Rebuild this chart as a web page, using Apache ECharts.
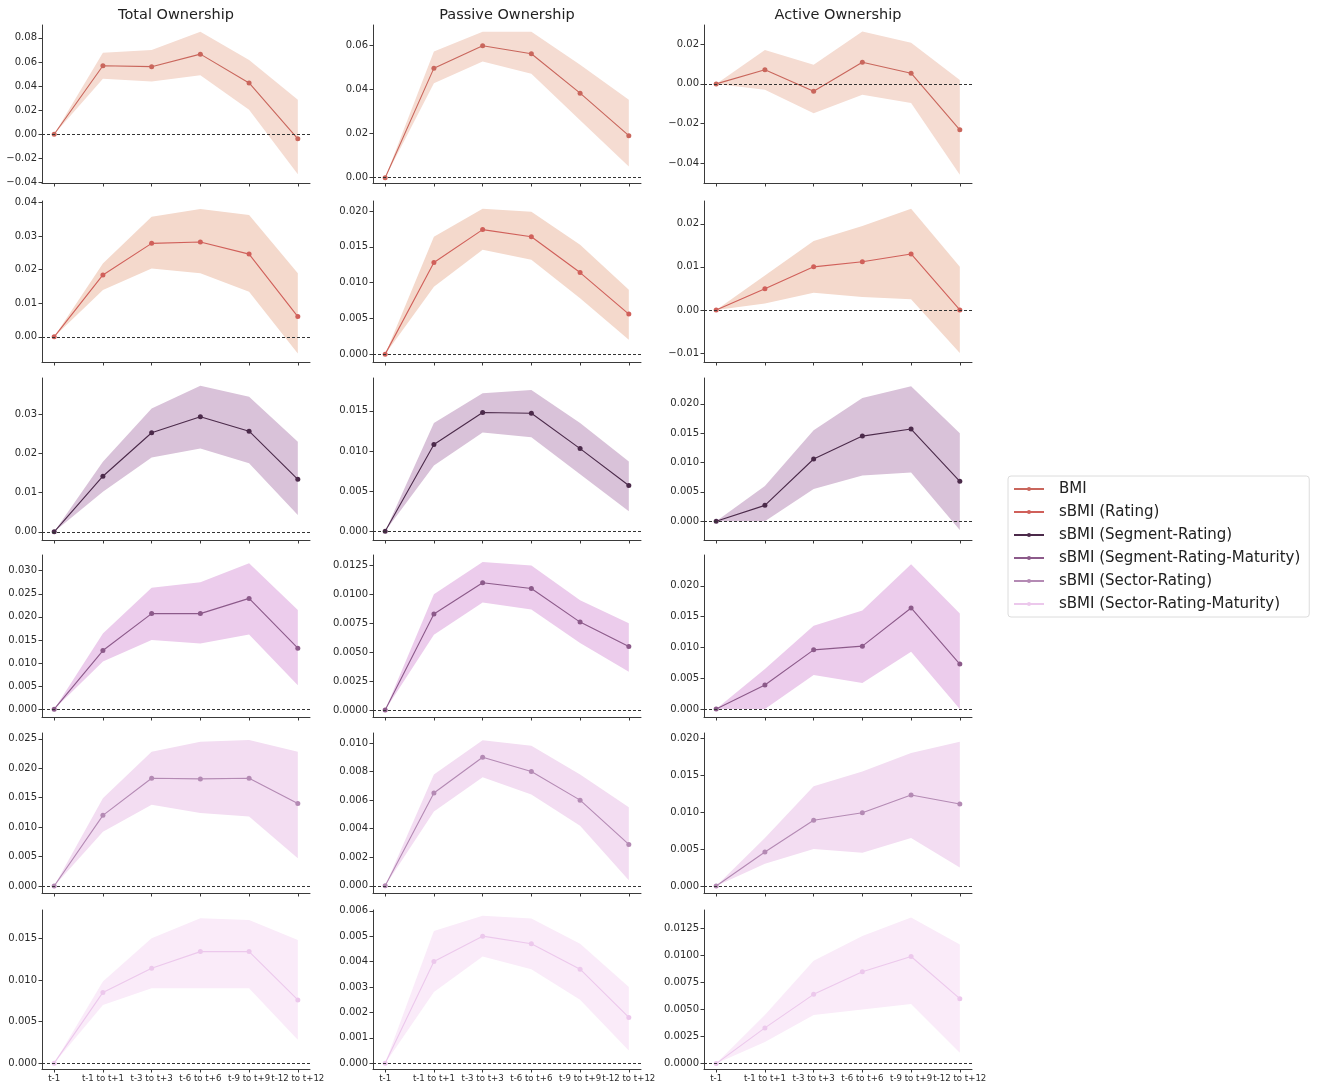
<!DOCTYPE html>
<html><head><meta charset="utf-8">
<script src="https://cdn.jsdelivr.net/npm/echarts@6/dist/echarts.min.js"></script>
<style>html,body{margin:0;padding:0;background:#fff}#c{width:1320px;height:1087px}</style>
</head><body><div id="c"></div>
<script>
// ---------- categories / names ----------
const categories = ['t-1', 't-1 to t+1', 't-3 to t+3', 't-6 to t+6', 't-9 to t+9', 't-12 to t+12'];
const seriesNames = ['BMI', 'sBMI (Rating)', 'sBMI (Segment-Rating)', 'sBMI (Segment-Rating-Maturity)', 'sBMI (Sector-Rating)', 'sBMI (Sector-Rating-Maturity)'];
const panelTitles = ['Total Ownership', 'Passive Ownership', 'Active Ownership'];

// ---------- BMI ----------
const bmi_total_mean = [0, 0.0569, 0.0561, 0.0665, 0.0426, -0.0038];
const bmi_total_lo   = [0, 0.0460, 0.0437, 0.0490, 0.0203, -0.0333];
const bmi_total_hi   = [0, 0.0676, 0.0700, 0.0850, 0.0616, 0.0286];
const bmi_passive_mean = [0, 0.0495, 0.0596, 0.0560, 0.0382, 0.0190];
const bmi_passive_lo   = [0, 0.0427, 0.0525, 0.0470, 0.0260, 0.0050];
const bmi_passive_hi   = [0, 0.0570, 0.0660, 0.0660, 0.0510, 0.0352];
const bmi_active_mean = [0, 0.0071, -0.0037, 0.0109, 0.0054, -0.0232];
const bmi_active_lo   = [0, -0.0030, -0.0148, -0.0055, -0.0097, -0.0459];
const bmi_active_hi   = [0, 0.0171, 0.0096, 0.0264, 0.0208, 0.0020];

// ---------- sBMI (Rating) ----------
const rat_total_mean = [0, 0.0184, 0.0278, 0.0282, 0.0246, 0.0060];
const rat_total_lo   = [0, 0.0139, 0.0203, 0.0189, 0.0134, -0.0050];
const rat_total_hi   = [0, 0.0218, 0.0357, 0.0380, 0.0362, 0.0189];
const rat_passive_mean = [0, 0.0128, 0.0174, 0.0164, 0.0114, 0.0056];
const rat_passive_lo   = [0, 0.0094, 0.0146, 0.0132, 0.0078, 0.0020];
const rat_passive_hi   = [0, 0.0164, 0.0203, 0.0199, 0.0153, 0.0090];
const rat_active_mean = [0, 0.0049, 0.0100, 0.0112, 0.0130, 0.0000];
const rat_active_lo   = [0, 0.0015, 0.0040, 0.0030, 0.0025, -0.0100];
const rat_active_hi   = [0, 0.0080, 0.0160, 0.0195, 0.0235, 0.0100];

// ---------- sBMI (Segment-Rating) ----------
const segr_total_mean = [0, 0.0142, 0.0253, 0.0294, 0.0257, 0.0134];
const segr_total_lo   = [0, 0.0102, 0.0190, 0.0213, 0.0175, 0.0043];
const segr_total_hi   = [0, 0.0179, 0.0315, 0.0373, 0.0345, 0.0230];
const segr_passive_mean = [0, 0.0108, 0.0148, 0.0147, 0.0103, 0.0057];
const segr_passive_lo   = [0, 0.0082, 0.0123, 0.0117, 0.0071, 0.0025];
const segr_passive_hi   = [0, 0.0135, 0.0172, 0.0176, 0.0135, 0.0087];
const segr_active_mean = [0, 0.0027, 0.0106, 0.0145, 0.0157, 0.0068];
const segr_active_lo   = [0, 0.0000, 0.0055, 0.0078, 0.0083, -0.0015];
const segr_active_hi   = [0, 0.0060, 0.0155, 0.0210, 0.0230, 0.0150];

// ---------- sBMI (Segment-Rating-Maturity) ----------
const segrm_total_mean = [0, 0.0127, 0.0207, 0.0207, 0.0240, 0.0132];
const segrm_total_lo   = [0, 0.0103, 0.0150, 0.0142, 0.0162, 0.0052];
const segrm_total_hi   = [0, 0.0164, 0.0263, 0.0275, 0.0316, 0.0215];
const segrm_passive_mean = [0, 0.0083, 0.0110, 0.0105, 0.0076, 0.0055];
const segrm_passive_lo   = [0, 0.0065, 0.0093, 0.0087, 0.0058, 0.0033];
const segrm_passive_hi   = [0, 0.0100, 0.0128, 0.0125, 0.0095, 0.0075];
const segrm_active_mean = [0, 0.0039, 0.0096, 0.0102, 0.0164, 0.0073];
const segrm_active_lo   = [0, 0.0000, 0.0055, 0.0042, 0.0093, 0.0000];
const segrm_active_hi   = [0, 0.0065, 0.0135, 0.0160, 0.0235, 0.0155];

// ---------- sBMI (Sector-Rating) ----------
const secr_total_mean = [0, 0.0120, 0.0183, 0.0182, 0.0183, 0.0140];
const secr_total_lo   = [0, 0.0092, 0.0138, 0.0124, 0.0118, 0.0047];
const secr_total_hi   = [0, 0.0149, 0.0228, 0.0245, 0.0248, 0.0228];
const secr_passive_mean = [0, 0.0065, 0.0090, 0.0080, 0.0060, 0.0029];
const secr_passive_lo   = [0, 0.0052, 0.0076, 0.0064, 0.0042, 0.0004];
const secr_passive_hi   = [0, 0.0078, 0.0102, 0.0098, 0.0078, 0.0055];
const secr_active_mean = [0, 0.0046, 0.0089, 0.0099, 0.0123, 0.0111];
const secr_active_lo   = [0, 0.0030, 0.0050, 0.0045, 0.0065, 0.0025];
const secr_active_hi   = [0, 0.0065, 0.0135, 0.0155, 0.0180, 0.0195];

// ---------- sBMI (Sector-Rating-Maturity) ----------
const secrm_total_mean = [0, 0.0085, 0.0114, 0.0134, 0.0134, 0.0076];
const secrm_total_lo   = [0, 0.0070, 0.0090, 0.0090, 0.0090, 0.0028];
const secrm_total_hi   = [0, 0.0098, 0.0150, 0.0174, 0.0172, 0.0148];
const secrm_passive_mean = [0, 0.0040, 0.0050, 0.0047, 0.0037, 0.0018];
const secrm_passive_lo   = [0, 0.0028, 0.0042, 0.0037, 0.0025, 0.0005];
const secrm_passive_hi   = [0, 0.0052, 0.0058, 0.0057, 0.0047, 0.0030];
const secrm_active_mean = [0, 0.0033, 0.0064, 0.0085, 0.0099, 0.0060];
const secrm_active_lo   = [0, 0.0020, 0.0045, 0.0050, 0.0055, 0.0010];
const secrm_active_hi   = [0, 0.0045, 0.0095, 0.0118, 0.0135, 0.0110];

// ---------- y tick labels per panel (row-major) ----------
const yTicks_r0c0 = [-0.04, -0.02, 0, 0.02, 0.04, 0.06, 0.08];
const yTicks_r0c1 = [0, 0.02, 0.04, 0.06];
const yTicks_r0c2 = [-0.04, -0.02, 0, 0.02];
const yTicks_r1c0 = [0, 0.01, 0.02, 0.03, 0.04];
const yTicks_r1c1 = [0, 0.005, 0.010, 0.015, 0.020];
const yTicks_r1c2 = [-0.01, 0, 0.01, 0.02];
const yTicks_r2c0 = [0, 0.01, 0.02, 0.03];
const yTicks_r2c1 = [0, 0.005, 0.010, 0.015];
const yTicks_r2c2 = [0, 0.005, 0.010, 0.015, 0.020];
const yTicks_r3c0 = [0, 0.005, 0.010, 0.015, 0.020, 0.025, 0.030];
const yTicks_r3c1 = [0, 0.0025, 0.0050, 0.0075, 0.0100, 0.0125];
const yTicks_r3c2 = [0, 0.005, 0.010, 0.015, 0.020];
const yTicks_r4c0 = [0, 0.005, 0.010, 0.015, 0.020, 0.025];
const yTicks_r4c1 = [0, 0.002, 0.004, 0.006, 0.008, 0.010];
const yTicks_r4c2 = [0, 0.005, 0.010, 0.015, 0.020];
const yTicks_r5c0 = [0, 0.005, 0.010, 0.015];
const yTicks_r5c1 = [0, 0.001, 0.002, 0.003, 0.004, 0.005, 0.006];
const yTicks_r5c2 = [0, 0.0025, 0.0050, 0.0075, 0.0100, 0.0125];
const yDecimals = [[2,2,2],[2,3,2],[2,3,3],[3,4,3],[3,3,3],[3,3,4]];
const yRanges = [
  [[-0.0405, 0.0907], [-0.0024, 0.0690], [-0.0500, 0.0297]],
  [[-0.0075, 0.0404], [-0.0011, 0.0214], [-0.0121, 0.0253]],
  [[-0.0021, 0.0393], [-0.0011, 0.0191], [-0.0032, 0.0244]],
  [[-0.0017, 0.0334], [-0.0006, 0.0134], [-0.0013, 0.0250]],
  [[-0.0012, 0.0260], [-0.0005, 0.0107], [-0.00095, 0.0207]],
  [[-0.0007, 0.0184], [-0.00023, 0.00603], [-0.0005, 0.0142]]
];

// ---------- styling ----------
const lineColors = ['#c9665c', '#d0605a', '#4b2a4a', '#8c5a8a', '#b48ab4', '#ecc8ec'];
const bandColors = ['#f5dcd2', '#f4d9cc', '#d9c2d9', '#ecccec', '#f3ddf2', '#faebf9'];

const panels = [
  [[bmi_total_mean, bmi_total_lo, bmi_total_hi], [bmi_passive_mean, bmi_passive_lo, bmi_passive_hi], [bmi_active_mean, bmi_active_lo, bmi_active_hi]],
  [[rat_total_mean, rat_total_lo, rat_total_hi], [rat_passive_mean, rat_passive_lo, rat_passive_hi], [rat_active_mean, rat_active_lo, rat_active_hi]],
  [[segr_total_mean, segr_total_lo, segr_total_hi], [segr_passive_mean, segr_passive_lo, segr_passive_hi], [segr_active_mean, segr_active_lo, segr_active_hi]],
  [[segrm_total_mean, segrm_total_lo, segrm_total_hi], [segrm_passive_mean, segrm_passive_lo, segrm_passive_hi], [segrm_active_mean, segrm_active_lo, segrm_active_hi]],
  [[secr_total_mean, secr_total_lo, secr_total_hi], [secr_passive_mean, secr_passive_lo, secr_passive_hi], [secr_active_mean, secr_active_lo, secr_active_hi]],
  [[secrm_total_mean, secrm_total_lo, secrm_total_hi], [secrm_passive_mean, secrm_passive_lo, secrm_passive_hi], [secrm_active_mean, secrm_active_lo, secrm_active_hi]]
];
const yTicks = [
  [yTicks_r0c0, yTicks_r0c1, yTicks_r0c2],
  [yTicks_r1c0, yTicks_r1c1, yTicks_r1c2],
  [yTicks_r2c0, yTicks_r2c1, yTicks_r2c2],
  [yTicks_r3c0, yTicks_r3c1, yTicks_r3c2],
  [yTicks_r4c0, yTicks_r4c1, yTicks_r4c2],
  [yTicks_r5c0, yTicks_r5c1, yTicks_r5c2]
];

const colLeft = [42, 373, 704];
const colWidth = 268;
const rowTop = [25, 201, 378, 555, 733, 910];
const rowHeight = [158, 161, 162, 162, 160, 159];
const axisColor = '#3a3a3a';
const xIdx = categories.map((_, i) => i);

const grids = [], xAxes = [], yAxes = [], series = [];
for (let r = 0; r < 6; r++) {
  for (let c = 0; c < 3; c++) {
    const g = r * 3 + c;
    grids.push({left: colLeft[c], top: rowTop[r], width: colWidth, height: rowHeight[r], containLabel: false});
    xAxes.push({
      type: 'value', gridIndex: g, min: -0.25, max: categories.length - 0.75,
      axisLine: {show: true, onZero: false, lineStyle: {color: axisColor, width: 1}},
      axisTick: {show: true, length: 3.5, customValues: xIdx, lineStyle: {color: axisColor}},
      axisLabel: {show: r === 5, customValues: xIdx, formatter: v => categories[Math.round(v)] || '',
                  fontSize: 8.6, color: '#2a2a2a', margin: 5, hideOverlap: false},
      splitLine: {show: false}
    });
    const dec = yDecimals[r][c];
    yAxes.push({
      type: 'value', gridIndex: g, min: yRanges[r][c][0], max: yRanges[r][c][1],
      axisLine: {show: true, onZero: false, lineStyle: {color: axisColor, width: 1}},
      axisTick: {show: true, length: 3.5, customValues: yTicks[r][c], lineStyle: {color: axisColor}},
      axisLabel: {customValues: yTicks[r][c], fontSize: 10, color: '#2a2a2a', margin: 5,
                  formatter: v => (v < 0 ? '\u2212' : '') + Math.abs(v).toFixed(dec)},
      splitLine: {show: false}
    });
    const [mean, lo, hi] = panels[r][c];
    const fill = bandColors[r];
    // confidence band: one polygon built from the lo/hi arrays through the axis scales
    series.push({
      type: 'custom', xAxisIndex: g, yAxisIndex: g, silent: true, z: 1,
      data: lo.map((v, i) => [i, v, hi[i]]),
      encode: {x: 0, y: [1, 2]},
      renderItem: (params, api) => {
        if (params.dataIndex !== 0) return null;
        const pts = [];
        for (let i = 0; i < hi.length; i++) pts.push(api.coord([i, hi[i]]));
        for (let i = lo.length - 1; i >= 0; i--) pts.push(api.coord([i, lo[i]]));
        return {type: 'polygon', shape: {points: pts}, style: {fill: fill, stroke: null}};
      }
    });
    series.push({
      type: 'line', name: seriesNames[r], xAxisIndex: g, yAxisIndex: g,
      data: mean.map((v, i) => [i, v]),
      symbol: 'circle', symbolSize: 5,
      itemStyle: {color: lineColors[r]},
      lineStyle: {color: lineColors[r], width: 1.1},
      z: 3,
      markLine: {silent: true, symbol: ['none', 'none'], label: {show: false},
                 lineStyle: {color: '#333', type: [3, 2], width: 1}, data: [{yAxis: 0}]}
    });
  }
}

const titleCenters = colLeft.map(l => l + colWidth / 2);
const option = {
  animation: false,
  backgroundColor: '#fff',
  textStyle: {fontFamily: 'DejaVu Sans'},
  title: panelTitles.map((t, i) => ({
    text: t, left: titleCenters[i], top: 8, textAlign: 'center', padding: 0,
    textStyle: {fontSize: 14.5, fontWeight: 'normal', color: '#222', fontFamily: 'DejaVu Sans'}
  })),
  legend: {
    data: seriesNames, orient: 'vertical', left: 1008, top: 476,
    padding: [3, 9, 3, 5], itemGap: 3, itemWidth: 30, itemHeight: 5,
    borderColor: '#dcdcdc', borderWidth: 1, borderRadius: 3, backgroundColor: '#fff',
    textStyle: {fontSize: 15, color: '#222', lineHeight: 20, padding: [0, 0, 0, 10], fontFamily: 'DejaVu Sans'},
    selectedMode: false
  },
  grid: grids, xAxis: xAxes, yAxis: yAxes, series: series
};
const chart = echarts.init(document.getElementById('c'), null, {renderer: 'canvas'});
chart.setOption(option);
</script></body></html>
